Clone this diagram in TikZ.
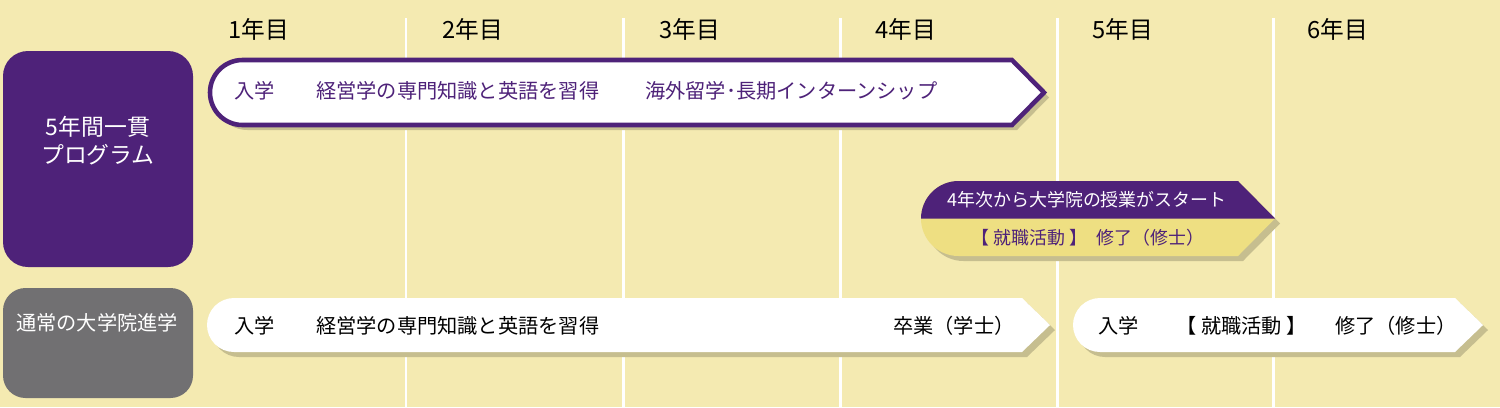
\documentclass[tikz,border=0pt]{standalone}
\usepackage{fontspec}
\setmainfont{Noto Sans CJK JP}
\definecolor{mybg}{HTML}{F4EAB1}
\definecolor{mypurple}{HTML}{4E2279}
\definecolor{mygray}{HTML}{717072}
\definecolor{myshadow}{HTML}{C6BE8F}
\definecolor{myyellow}{HTML}{EEDF82}

\begin{document}
\begin{tikzpicture}[x=0.02cm, y=-0.02cm]
	  \tikzstyle{every node} = [inner sep=0pt, font=\fontsize{11.5}{14}\selectfont]
	  \tikzstyle{intxt} = [anchor=west, text=mypurple]
	  \tikzstyle{outtxt} = [anchor=west, text=black]
	  \tikzstyle{shade} = [fill=myshadow, shift={(5,5)}]
	  \useasboundingbox (0,0) rectangle (1500,407);
	  \fill[mybg] (0,0) rectangle (1500,407);
	  \foreach \x in {406,623,840,1057,1273}
	    \draw [white, line width=1.7pt] (\x,18) -- (\x,407);
	  \foreach \n/\x in {1/259,2/473,3/690,4/906,5/1123,6/1338}
	    \node (y\n) [font=\fontsize{13.5}{16}\selectfont] at (\x,29) {{\n}年目};
	  % row labels
	  \fill[mypurple, rounded corners=0.5cm] (3,51) rectangle (193,267);
	  \node (prog) [text=white, align=center, font=\fontsize{13}{16}\selectfont] at (98,141) {5年間一貫\\プログラム};
	  \fill[mygray, rounded corners=0.45cm] (3,288) rectangle (193,398);
	  \node (norm) [text=white, font=\fontsize{11.5}{14}\selectfont] at (97,323) {通常の大学院進学};
	  % five-year banner
	  \fill[shade] (1012,60) -- (242.5,60) arc[start angle=270, end angle=90, radius=32.5] -- (1012,125) -- (1044,92.5) -- cycle;
	  \draw[fill=white, draw=mypurple, line width=2.6pt] (1012,60) -- (242.5,60) arc[start angle=270, end angle=90, radius=32.5] -- (1012,125) -- (1044,92.5) -- cycle;
	  \node (a1) [intxt] at (234,91) {入学};
	  \node (a2) [intxt] at (316,91) {経営学の専門知識と英語を習得};
	  \node (a3) [intxt] at (645,91) {海外留学･長期インターンシップ};
	  % graduate courses from year 4
	  \fill[shade] (1238,181) -- (958.5,181) arc[start angle=270, end angle=90, radius=37.5] -- (1238,256) -- (1275,218.5) -- cycle;
	  \fill[myyellow] (1238,181) -- (958.5,181) arc[start angle=270, end angle=90, radius=37.5] -- (1238,256) -- (1275,218.5) -- cycle;
	  \fill[mypurple] (1238,181) -- (958.5,181) arc[start angle=270, end angle=180, radius=37.5] -- (1275,218.5) -- cycle;
	  \node (b1) [text=white, font=\fontsize{10.2}{13}\selectfont] at (1087,200) {4年次から大学院の授業がスタート};
	  \node (b2) [text=mypurple, font=\fontsize{10.2}{13}\selectfont] at (1088,238) {【 就職活動 】\hspace{0.5em}修了（修士）};
	  % usual route
	  \fill[shade] (1022,298) -- (234,298) arc[start angle=270, end angle=90, radius=27] -- (1022,352) -- (1050,325) -- cycle;
	  \fill[white] (1022,298) -- (234,298) arc[start angle=270, end angle=90, radius=27] -- (1022,352) -- (1050,325) -- cycle;
	  \node (c1) [outtxt] at (234,326) {入学};
	  \node (c2) [outtxt] at (316,326) {経営学の専門知識と英語を習得};
	  \node (c3) [outtxt] at (893,326) {卒業（学士）};
	  \fill[shade] (1455,298) -- (1100,298) arc[start angle=270, end angle=90, radius=27] -- (1455,352) -- (1483,325) -- cycle;
	  \fill[white] (1455,298) -- (1100,298) arc[start angle=270, end angle=90, radius=27] -- (1455,352) -- (1483,325) -- cycle;
	  \node (d1) [outtxt] at (1098,326) {入学};
	  \node (d2) [outtxt] at (1176,326) {【 就職活動 】};
	  \node (d3) [outtxt] at (1335,326) {修了（修士）};
	\end{tikzpicture}
\end{document}
